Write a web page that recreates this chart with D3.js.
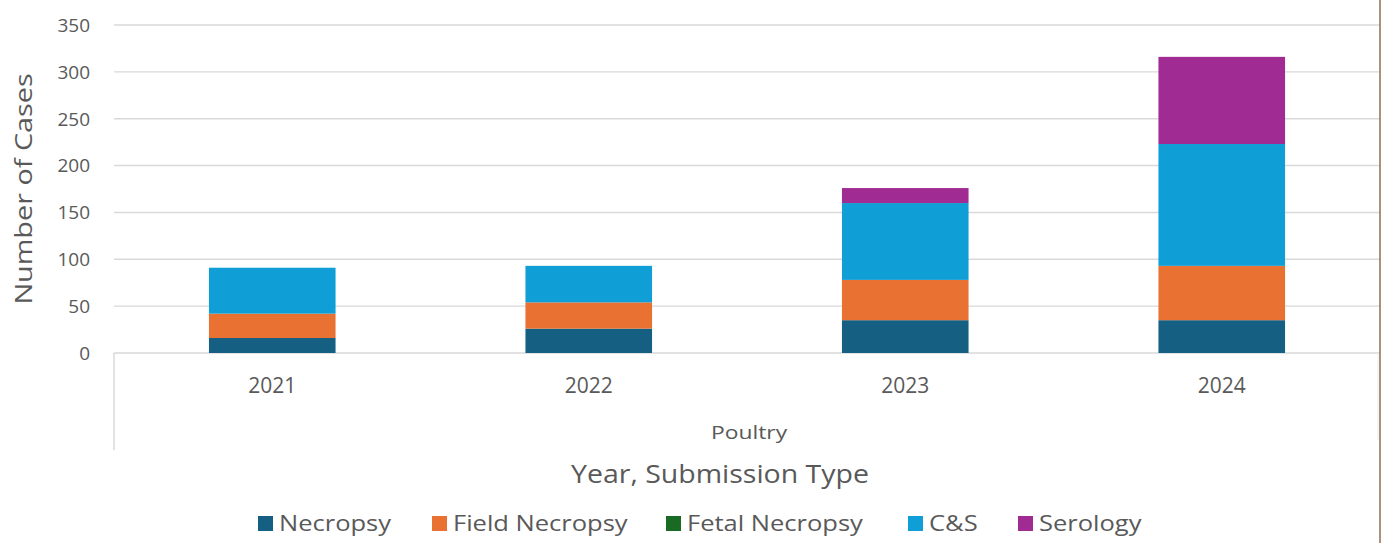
<!DOCTYPE html>
<html>
<head>
<meta charset="utf-8">
<script src="https://cdn.jsdelivr.net/npm/d3@7"></script>
<style>
  html, body { margin: 0; padding: 0; background: #ffffff; }
  svg { display: block; }
  text { font-family: "Open Sans", "Noto Sans", sans-serif; fill: #595959; }
</style>
</head>
<body>
<svg id="chart" width="1381" height="543"></svg>
<script>
// Poultry submissions per year, stacked by submission type
const years = ["2021", "2022", "2023", "2024"];
const seriesNames = ["Necropsy", "Field Necropsy", "Fetal Necropsy", "C&S", "Serology"];
const necropsy = [16, 26, 35, 35];
const fieldNecropsy = [26, 28, 43, 58];
const fetalNecropsy = [0, 0, 0, 0];
const cAndS = [49, 39, 82, 130];
const serology = [0, 0, 16, 93];
const yTicks = [0, 50, 100, 150, 200, 250, 300, 350];
const groupLabel = "Poultry";
const xTitle = "Year, Submission Type";
const yTitle = "Number of Cases";

const colors = ["#156082", "#E97132", "#196B24", "#0F9ED5", "#A02B93"];
const seriesValues = [necropsy, fieldNecropsy, fetalNecropsy, cAndS, serology];

const rows = years.map((yr, i) => {
  const r = { year: yr };
  seriesNames.forEach((s, k) => { r[s] = seriesValues[k][i]; });
  return r;
});

const svg = d3.select("#chart");
const plotLeft = 114, plotRight = 1380, plotTop = 25, plotBottom = 353;

const x = d3.scaleBand().domain(years).range([plotLeft, plotRight])
  .paddingInner(0.6).paddingOuter(0.3);
const y = d3.scaleLinear().domain([0, 350]).range([plotBottom, plotTop]);

// text helper: a slightly widened face, optionally rotated
function label(parent, px, py, str, size, anchor, stretch, rot) {
  return parent.append("text")
    .attr("transform", `translate(${px},${py})${rot ? ` rotate(${rot})` : ""} scale(${stretch},1)`)
    .attr("text-anchor", anchor)
    .style("font-size", size + "px")
    .text(str);
}

// horizontal gridlines
svg.append("g")
  .selectAll("line")
  .data(yTicks)
  .join("line")
  .attr("x1", plotLeft).attr("x2", plotRight)
  .attr("y1", d => y(d)).attr("y2", d => y(d))
  .attr("stroke", "#d9d9d9").attr("stroke-width", 1.4);

// y tick labels
svg.append("g")
  .selectAll("text")
  .data(yTicks)
  .join("text")
  .attr("x", 90).attr("y", d => y(d))
  .attr("dy", "0.36em")
  .attr("text-anchor", "end")
  .style("font-size", "19px")
  .text(d => d);

// stacked bars
const stacked = d3.stack().keys(seriesNames)(rows);
svg.append("g")
  .selectAll("g")
  .data(stacked)
  .join("g")
  .attr("fill", (d, i) => colors[i])
  .selectAll("rect")
  .data(d => d)
  .join("rect")
  .attr("x", d => x(d.data.year))
  .attr("width", x.bandwidth())
  .attr("y", d => y(d[1]))
  .attr("height", d => y(d[0]) - y(d[1]));

// multi-level category axis frame
svg.append("line")
  .attr("x1", plotLeft).attr("x2", plotLeft)
  .attr("y1", plotBottom).attr("y2", 450)
  .attr("stroke", "#d9d9d9").attr("stroke-width", 1.5);
svg.append("line")
  .attr("x1", plotRight - 2).attr("x2", plotRight - 2)
  .attr("y1", plotBottom).attr("y2", 440)
  .attr("stroke", "#ececec").attr("stroke-width", 1);

// year labels
years.forEach(d => label(svg, x(d) + x.bandwidth() / 2, 393, d, 21, "middle", 1.0));

// group label
label(svg, 749, 439, groupLabel, 18, "middle", 1.27);

// axis titles
label(svg, 720, 483, xTitle, 25, "middle", 1.14);
label(svg, 32, (plotTop + plotBottom) / 2, yTitle, 24, "middle", 1.2, -90);

// legend
const legendX = [258, 432, 666, 908, 1018];
seriesNames.forEach((name, i) => {
  svg.append("rect")
    .attr("x", legendX[i]).attr("y", 516)
    .attr("width", 15).attr("height", 15)
    .attr("fill", colors[i]);
  label(svg, legendX[i] + 21, 531, name, 22, "start", 1.16);
});

// page frame edge
svg.append("line")
  .attr("x1", 1380).attr("x2", 1380)
  .attr("y1", 0).attr("y2", 543)
  .attr("stroke", "#8f6e50").attr("stroke-width", 1.5);
</script>
</body>
</html>
